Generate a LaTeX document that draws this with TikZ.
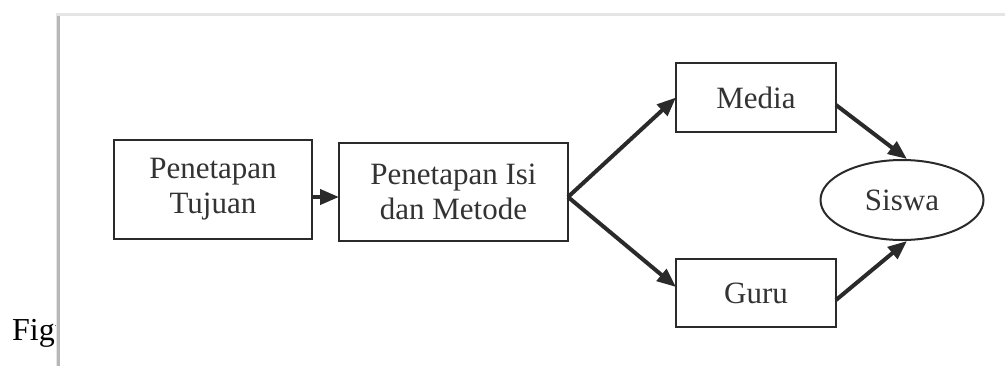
\documentclass[tikz,border=0pt]{standalone}
\usepackage{fontspec}
\setmainfont{Liberation Serif}
\usetikzlibrary{arrows.meta,shapes.geometric,calc}
\definecolor{ink}{HTML}{2A2A2A}
\definecolor{txt}{HTML}{333333}
\tikzset{
  boxnode/.style={draw=ink, line width=2pt, rectangle, inner sep=0pt, outer sep=0pt, align=center, text=txt, font=\fontsize{31}{35}\selectfont},
  ovalnode/.style={draw=ink, line width=2pt, ellipse, inner sep=0pt, outer sep=0pt, text=txt, font=\fontsize{31}{35}\selectfont},
  flow/.style={draw=ink, line width=4pt, -{Triangle[length=19pt,width=15pt]}, shorten >=0pt}
}
\begin{document}
\begin{tikzpicture}[x=1pt,y=-1pt]
\useasboundingbox (0,0) rectangle (1005,365);
\fill[white] (0,0) rectangle (1005,365);
\node[anchor=base west, inner sep=0pt, text=black, font=\fontsize{32}{36}\selectfont] (cap) at (12,340) {Figu};
% panel with soft shadow
\fill[black!10] (56,13) rectangle (1010,370);
\fill[black!28] (57,16) rectangle (60,370);
\fill[white] (60,15.5) rectangle (1010,370);
% nodes
\node[boxnode, minimum width=198pt, minimum height=99pt] (b1) at (213,189.5) {Penetapan\\Tujuan};
\node[boxnode, minimum width=229pt, minimum height=98pt] (b2) at (453.5,192) {Penetapan Isi\\dan Metode};
\node[boxnode, minimum width=160pt, minimum height=69pt] (media) at (756,97.5) {Media};
\node[boxnode, minimum width=160pt, minimum height=68pt] (guru) at (756,293) {Guru};
\node[ovalnode, minimum width=163pt, minimum height=80pt] (siswa) at (902,200) {Siswa};
% connectors
\draw[flow] ($(b1.east)+(0,7.5)$) -- ($(b2.west)+(0,5)$);
\draw[flow] ($(b2.east)+(0,5)$) -- (media.west);
\draw[flow] ($(b2.east)+(0,5)$) -- ($(guru.west)+(0,-6)$);
\draw[flow] ($(media.east)+(0,7.5)$) -- ($(siswa.north)+(5,-1)$);
\draw[flow] ($(guru.east)+(0,7)$) -- ($(siswa.south)+(5,1)$);
\end{tikzpicture}
\end{document}
